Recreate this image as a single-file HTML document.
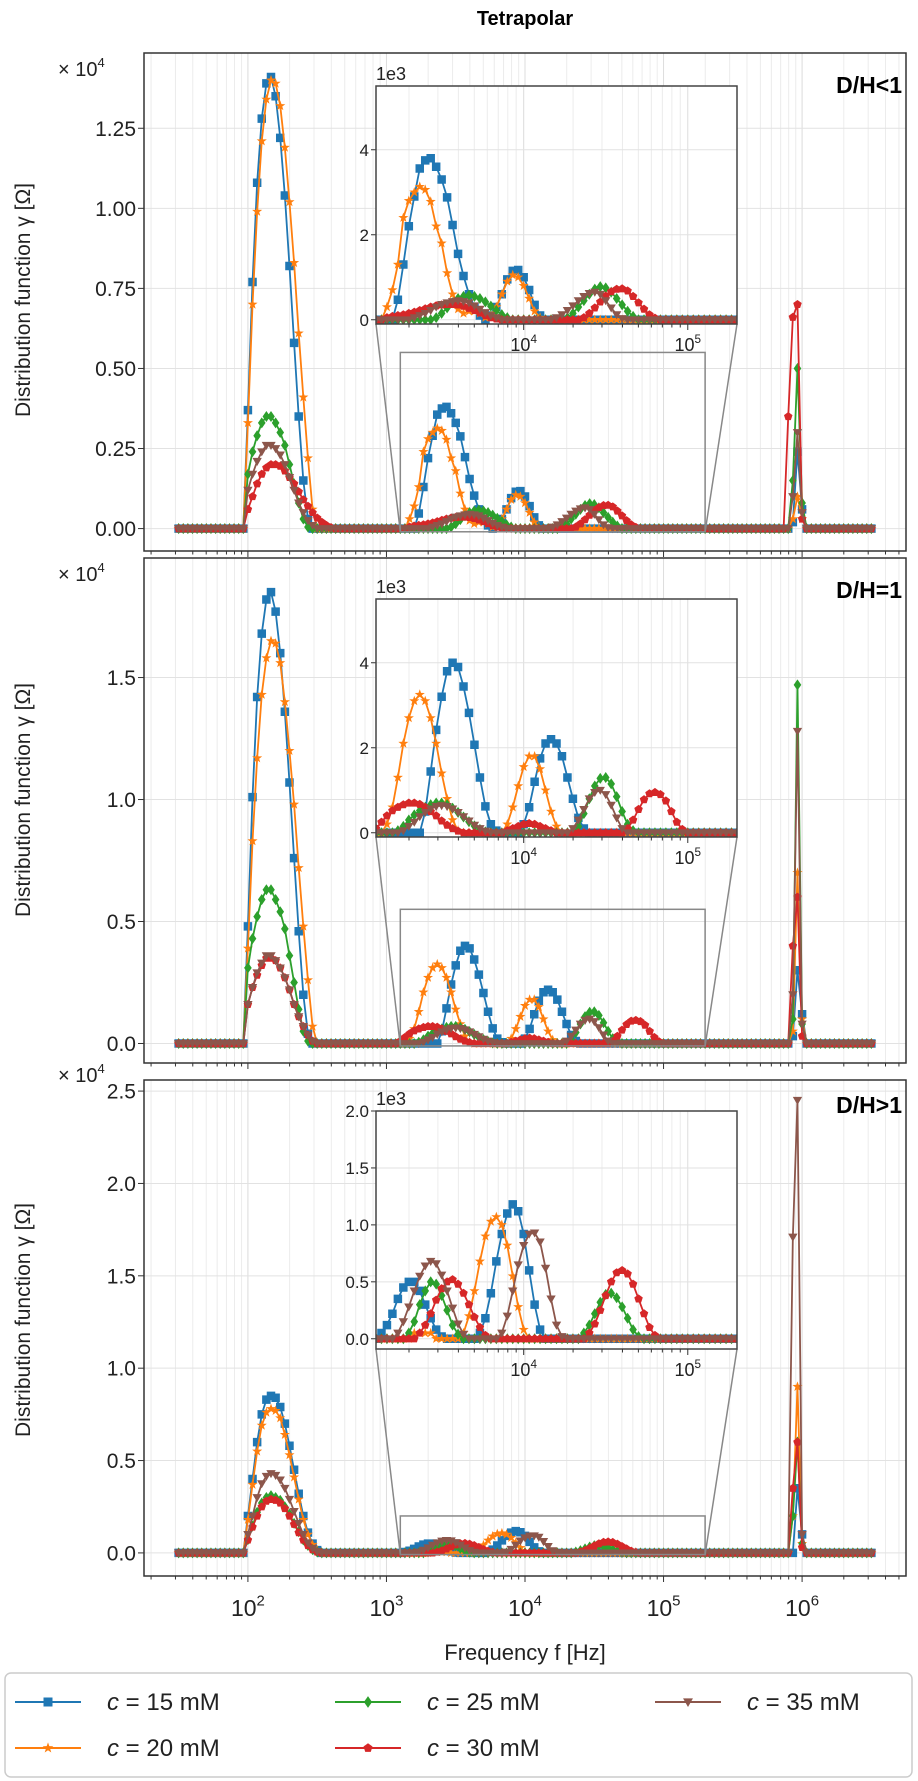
<!DOCTYPE html>
<html><head><meta charset="utf-8"><title>Tetrapolar distribution functions</title>
<style>
html,body{margin:0;padding:0;background:#fff;}
svg{display:block;font-family:"Liberation Sans","DejaVu Sans",sans-serif;}
</style></head>
<body>
<svg id="chart" xmlns="http://www.w3.org/2000/svg" width="918" height="1781" viewBox="0 0 918 1781">
<rect x="0" y="0" width="918" height="1781" fill="#fff"/>
<text x="525" y="25" text-anchor="middle" font-size="20" font-weight="bold">Tetrapolar</text>
<text transform="translate(30,300) rotate(-90)" text-anchor="middle" font-size="21" fill="#222">Distribution function γ [Ω]</text>
<text transform="translate(30,800) rotate(-90)" text-anchor="middle" font-size="21" fill="#222">Distribution function γ [Ω]</text>
<text transform="translate(30,1320) rotate(-90)" text-anchor="middle" font-size="21" fill="#222">Distribution function γ [Ω]</text>
<text x="525" y="1660" text-anchor="middle" font-size="22" fill="#222">Frequency f [Hz]</text>
<g id="panels"></g>
<g id="legend">
<rect x="5" y="1673" width="907" height="104" rx="6" fill="#fff" stroke="#ccc" stroke-width="1.5"/>
</g>
</svg>
<script>
// ---- data (values in units of 1e3 Ω), index i -> log10(f) = 1.5 + i/30, 151 points ----
const logFreqStart = 1.5;
const logFreqStep = 1/30;
const seriesLabels = ['15','20','25','30','35'];
const xTickLabels = ['2','3','4','5','6'];
const p1YTicks = ['0.00','0.25','0.50','0.75','1.00','1.25'];
const p2YTicks = ['0.0','0.5','1.0','1.5'];
const p3YTicks = ['0.0','0.5','1.0','1.5','2.0','2.5'];
const inset12YTicks = ['0','2','4'];
const inset3YTicks = ['0.0','0.5','1.0','1.5','2.0'];
const panelTitles = ['D/H<1','D/H=1','D/H>1'];

const p1_c15 = [0,0,0,0,0,0,0,0,0,0,
0,0,0,0,0,3.7,7.7,10.8,12.8,13.9,
14.1,13.5,12.2,10.4,8.2,5.8,3.5,1.5,0.3,0,
0,0,0,0,0,0,0,0,0,0,
0,0,0,0,0,0,0,0,0,0,
0,0,0.47,1.3,2.2,2.9,3.56,3.75,3.8,3.6,
3.3,2.88,2.23,1.55,1.03,0.6,0.3,0.1,0,0.1,
0.3,0.6,0.95,1.15,1.17,1.0,0.7,0.35,0.1,0,
0,0,0,0,0,0,0,0,0,0,
0,0,0,0,0,0,0,0,0,0,
0,0,0,0,0,0,0,0,0,0,
0,0,0,0,0,0,0,0,0,0,
0,0,0,0,0,0,0,0,0,0,
0,0,0,0.2,2.4,0.6,0,0,0,0,
0,0,0,0,0,0,0,0,0,0,
0];
const p1_c20 = [0,0,0,0,0,0,0,0,0,0,
0,0,0,0,0,3.3,7.0,9.9,12.1,13.4,
14.0,13.9,13.2,11.9,10.2,8.3,6.1,4.1,2.2,0.6,
0,0,0,0,0,0,0,0,0,0,
0,0,0,0,0,0,0,0,0,0,
0.3,0.7,1.3,2.4,2.8,3.0,3.13,3.06,2.78,2.2,
1.8,1.1,0.6,0.25,0.15,0.2,0.2,0.15,0.05,0.1,
0.3,0.6,0.9,1.05,1.0,0.8,0.5,0.2,0.05,0,
0,0,0,0,0,0,0,0,0,0,
0,0,0,0,0,0,0,0,0,0,
0,0,0,0,0,0,0,0,0,0,
0,0,0,0,0,0,0,0,0,0,
0,0,0,0,0,0,0,0,0,0,
0,0,0,0.3,1.0,0.3,0,0,0,0,
0,0,0,0,0,0,0,0,0,0,
0];
const p1_c25 = [0,0,0,0,0,0,0,0,0,0,
0,0,0,0,0,1.7,2.4,2.9,3.3,3.5,
3.5,3.3,3.0,2.6,2.0,1.4,0.8,0.3,0.05,0,
0,0,0,0,0,0,0,0,0,0,
0,0,0,0,0,0,0,0,0,0,
0,0,0,0,0,0,0,0,0,0.05,
0.15,0.28,0.4,0.5,0.55,0.58,0.55,0.5,0.42,0.32,
0.22,0.12,0.05,0,0,0,0,0,0,0,
0,0,0,0.05,0.15,0.3,0.45,0.6,0.72,0.78,
0.75,0.65,0.5,0.35,0.2,0.08,0,0,0,0,
0,0,0,0,0,0,0,0,0,0,
0,0,0,0,0,0,0,0,0,0,
0,0,0,0,0,0,0,0,0,0,
0,0,0,1.5,5.0,0.8,0,0,0,0,
0,0,0,0,0,0,0,0,0,0,
0];
const p1_c30 = [0,0,0,0,0,0,0,0,0,0,
0,0,0,0,0,0.6,1.0,1.4,1.7,1.9,
2.0,2.0,1.95,1.8,1.6,1.4,1.15,0.9,0.7,0.5,
0.33,0.2,0.1,0.03,0,0,0,0,0,0,
0,0,0,0,0,0,0,0,0,0,
0.05,0.08,0.1,0.12,0.15,0.18,0.22,0.26,0.3,0.33,
0.35,0.36,0.36,0.35,0.32,0.27,0.22,0.16,0.1,0.05,
0.02,0,0,0,0,0,0,0,0,0,
0,0,0,0,0,0,0.05,0.15,0.28,0.42,
0.56,0.66,0.72,0.73,0.68,0.55,0.4,0.25,0.12,0.04,
0,0,0,0,0,0,0,0,0,0,
0,0,0,0,0,0,0,0,0,0,
0,0,0,0,0,0,0,0,0,0,
0,0,3.5,6.6,7.0,0.3,0,0,0,0,
0,0,0,0,0,0,0,0,0,0,
0];
const p1_c35 = [0,0,0,0,0,0,0,0,0,0,
0,0,0,0,0,1.2,1.7,2.1,2.4,2.6,
2.6,2.5,2.3,2.0,1.6,1.2,0.8,0.5,0.25,0.1,
0,0,0,0,0,0,0,0,0,0,
0,0,0,0,0,0,0,0,0,0,
0,0,0,0,0,0.05,0.1,0.15,0.22,0.3,
0.36,0.4,0.43,0.45,0.43,0.4,0.33,0.25,0.17,0.1,
0.05,0,0,0,0,0,0,0,0,0,
0,0.05,0.12,0.22,0.33,0.45,0.55,0.62,0.65,0.6,
0.45,0.28,0.12,0.03,0,0,0,0,0,0,
0,0,0,0,0,0,0,0,0,0,
0,0,0,0,0,0,0,0,0,0,
0,0,0,0,0,0,0,0,0,0,
0,0,0,1.0,3.0,0.5,0,0,0,0,
0,0,0,0,0,0,0,0,0,0,
0];

const p2_c15 = [0,0,0,0,0,0,0,0,0,0,
0,0,0,0,0,4.8,10.1,14.2,16.8,18.2,
18.5,17.7,16,13.6,10.7,7.6,4.6,2,0.4,0,
0,0,0,0,0,0,0,0,0,0,
0,0,0,0,0,0,0,0,0,0,
0,0,0,0,0,0,0,0.5,1.44,2.42,
3.2,3.8,4.0,3.9,3.44,2.82,2.07,1.3,0.62,0.2,
0.05,0,0,0,0,0.2,0.6,1.2,1.75,2.1,
2.2,2.1,1.8,1.3,0.8,0.35,0.1,0,0,0,
0,0,0,0,0,0,0,0,0,0,
0,0,0,0,0,0,0,0,0,0,
0,0,0,0,0,0,0,0,0,0,
0,0,0,0,0,0,0,0,0,0,
0,0,0,0.3,3.0,1.2,0,0,0,0,
0,0,0,0,0,0,0,0,0,0,
0];
const p2_c20 = [0,0,0,0,0,0,0,0,0,0,
0,0,0,0,0,3.9,8.3,11.7,14.3,15.8,
16.5,16.4,15.6,14,12,9.8,7.2,4.8,2.6,0.7,
0,0,0,0,0,0,0,0,0,0,
0,0,0,0,0,0,0,0,0,0,
0.2,0.6,1.3,2.1,2.7,3.1,3.25,3.1,2.7,2.1,
1.4,0.8,0.3,0.05,0,0,0,0,0,0,
0,0,0.2,0.6,1.1,1.55,1.8,1.8,1.5,1.0,
0.5,0.15,0,0,0,0,0,0,0,0,
0,0,0,0,0,0,0,0,0,0,
0,0,0,0,0,0,0,0,0,0,
0,0,0,0,0,0,0,0,0,0,
0,0,0,0,0,0,0,0,0,0,
0,0,0,0.5,7.0,1.0,0,0,0,0,
0,0,0,0,0,0,0,0,0,0,
0];
const p2_c25 = [0,0,0,0,0,0,0,0,0,0,
0,0,0,0,0,3.1,4.3,5.2,5.9,6.3,
6.3,5.9,5.4,4.7,3.6,2.5,1.4,0.5,0.1,0,
0,0,0,0,0,0,0,0,0,0,
0,0,0,0,0,0,0,0,0,0,
0,0,0.05,0.15,0.3,0.42,0.52,0.6,0.66,0.7,
0.7,0.66,0.58,0.48,0.37,0.26,0.16,0.08,0.02,0,
0,0,0,0,0,0,0,0,0,0,
0,0,0,0,0,0.15,0.45,0.8,1.1,1.28,
1.3,1.15,0.85,0.5,0.2,0.05,0,0,0,0,
0,0,0,0,0,0,0,0,0,0,
0,0,0,0,0,0,0,0,0,0,
0,0,0,0,0,0,0,0,0,0,
0,0,0,1.0,14.7,0.8,0,0,0,0,
0,0,0,0,0,0,0,0,0,0,
0];
const p2_c30 = [0,0,0,0,0,0,0,0,0,0,
0,0,0,0,0,1.6,2.3,2.8,3.2,3.5,
3.5,3.4,3.1,2.7,2.2,1.6,1.1,0.7,0.35,0.1,
0,0,0,0,0,0,0,0,0,0,
0,0,0,0,0,0,0,0,0.1,0.25,
0.4,0.52,0.6,0.66,0.7,0.7,0.67,0.6,0.5,0.4,
0.28,0.18,0.1,0.04,0,0,0,0,0,0,
0,0,0.05,0.1,0.15,0.2,0.22,0.2,0.15,0.1,
0.05,0,0,0,0,0,0,0,0,0,
0,0,0,0,0.1,0.3,0.55,0.78,0.92,0.95,
0.9,0.75,0.5,0.25,0.08,0,0,0,0,0,
0,0,0,0,0,0,0,0,0,0,
0,0,0,0,0,0,0,0,0,0,
0,0,0,4.0,6.0,0.3,0,0,0,0,
0,0,0,0,0,0,0,0,0,0,
0];
const p2_c35 = [0,0,0,0,0,0,0,0,0,0,
0,0,0,0,0,1.6,2.3,2.9,3.3,3.6,
3.6,3.4,3.1,2.7,2.2,1.6,1.1,0.7,0.35,0.1,
0,0,0,0,0,0,0,0,0,0,
0,0,0,0,0,0,0,0,0,0,
0,0,0,0.05,0.15,0.25,0.38,0.48,0.56,0.62,
0.64,0.62,0.56,0.48,0.38,0.28,0.18,0.1,0.04,0,
0,0,0,0,0,0,0,0,0,0,
0,0,0,0,0.1,0.3,0.55,0.8,0.95,1.0,
0.9,0.65,0.35,0.1,0,0,0,0,0,0,
0,0,0,0,0,0,0,0,0,0,
0,0,0,0,0,0,0,0,0,0,
0,0,0,0,0,0,0,0,0,0,
0,0,0,2.0,12.8,0.8,0,0,0,0,
0,0,0,0,0,0,0,0,0,0,
0];

const p3_c15 = [0,0,0,0,0,0,0,0,0,0,
0,0,0,0,0,2.0,4.0,6.0,7.5,8.3,
8.5,8.4,7.9,7.0,5.8,4.5,3.2,2.0,1.1,0.5,
0.15,0,0,0,0,0,0,0,0,0,
0,0,0,0,0,0,0,0,0,0.05,
0.12,0.22,0.35,0.45,0.5,0.5,0.42,0.3,0.18,0.08,
0.02,0,0,0,0,0,0,0.05,0.18,0.4,
0.68,0.92,1.1,1.18,1.12,0.92,0.6,0.3,0.08,0,
0,0,0,0,0,0,0,0,0,0,
0,0,0,0,0,0,0,0,0,0,
0,0,0,0,0,0,0,0,0,0,
0,0,0,0,0,0,0,0,0,0,
0,0,0,0,0,0,0,0,0,0,
0,0,0,0,3.5,1.0,0,0,0,0,
0,0,0,0,0,0,0,0,0,0,
0];
const p3_c20 = [0,0,0,0,0,0,0,0,0,0,
0,0,0,0,0,1.8,3.7,5.5,6.9,7.6,
7.8,7.7,7.3,6.4,5.3,4.1,2.9,1.8,1.0,0.45,
0.15,0,0,0,0,0,0,0,0,0,
0,0,0,0,0,0,0,0,0,0,
0,0,0,0,0,0.05,0.05,0.05,0.05,0,
0,0,0,0,0.05,0.2,0.42,0.68,0.9,1.03,
1.07,1.0,0.82,0.55,0.28,0.08,0,0,0,0,
0,0,0,0,0,0,0,0,0,0,
0,0,0,0,0,0,0,0,0,0,
0,0,0,0,0,0,0,0,0,0,
0,0,0,0,0,0,0,0,0,0,
0,0,0,0,0,0,0,0,0,0,
0,0,0,2.0,9.0,0.5,0,0,0,0,
0,0,0,0,0,0,0,0,0,0,
0];
const p3_c25 = [0,0,0,0,0,0,0,0,0,0,
0,0,0,0,0,0.72,1.45,2.2,2.7,3.0,
3.1,3.0,2.85,2.5,2.1,1.6,1.15,0.7,0.4,0.18,
0.05,0,0,0,0,0,0,0,0,0,
0,0,0,0,0,0,0,0,0,0,
0,0,0,0,0.05,0.15,0.3,0.42,0.5,0.48,
0.38,0.25,0.12,0.04,0,0,0,0,0,0,
0,0,0,0,0,0,0,0,0,0,
0,0,0,0,0,0,0.05,0.12,0.22,0.32,
0.39,0.4,0.36,0.28,0.18,0.08,0.02,0,0,0,
0,0,0,0,0,0,0,0,0,0,
0,0,0,0,0,0,0,0,0,0,
0,0,0,0,0,0,0,0,0,0,
0,0,0,2.0,6.0,0.5,0,0,0,0,
0,0,0,0,0,0,0,0,0,0,
0];
const p3_c30 = [0,0,0,0,0,0,0,0,0,0,
0,0,0,0,0,0.7,1.4,2.0,2.5,2.8,
2.9,2.85,2.7,2.4,2.0,1.55,1.1,0.7,0.4,0.18,
0.05,0,0,0,0,0,0,0,0,0,
0,0,0,0,0,0,0,0,0,0,
0,0,0,0,0,0,0.05,0.12,0.22,0.34,
0.44,0.5,0.52,0.48,0.4,0.3,0.19,0.1,0.03,0,
0,0,0,0,0,0,0,0,0,0,
0,0,0,0,0,0,0,0.05,0.13,0.25,
0.38,0.5,0.58,0.6,0.57,0.48,0.35,0.22,0.1,0.03,
0,0,0,0,0,0,0,0,0,0,
0,0,0,0,0,0,0,0,0,0,
0,0,0,0,0,0,0,0,0,0,
0,0,0,3.5,6.0,0.3,0,0,0,0,
0,0,0,0,0,0,0,0,0,0,
0];
const p3_c35 = [0,0,0,0,0,0,0,0,0,0,
0,0,0,0,0,1.0,2.0,3.0,3.75,4.15,
4.3,4.2,3.95,3.5,2.9,2.25,1.6,1.0,0.55,0.25,
0.08,0,0,0,0,0,0,0,0,0,
0,0,0,0,0,0,0,0,0,0,
0,0,0.05,0.15,0.28,0.42,0.55,0.64,0.68,0.66,
0.56,0.42,0.27,0.13,0.04,0,0,0,0,0,
0,0.05,0.2,0.42,0.65,0.82,0.92,0.93,0.85,0.62,
0.35,0.12,0.02,0,0,0,0,0,0,0,
0,0,0,0,0,0,0,0,0,0,
0,0,0,0,0,0,0,0,0,0,
0,0,0,0,0,0,0,0,0,0,
0,0,0,0,0,0,0,0,0,0,
0,0,0,17.1,24.5,1.0,0,0,0,0,
0,0,0,0,0,0,0,0,0,0,
0];

// ---- layout / style (not data) ----
const NS = 'http://www.w3.org/2000/svg';
const COLORS = ['#1f77b4','#ff7f0e','#2ca02c','#d62728','#8c564b'];
const MARKERS = ['square','star','diamond','pentagon','tri'];
const MSIZE = 8.5;
const AX_L = 144, AX_R = 906, LXMIN = 1.25, LXMAX = 6.75;
const IN_L = 376, IN_R = 737, ILXMIN = 3.1, ILXMAX = 5.3;

const panels = [
 {top:53, bottom:551, ymin:-0.7, ymax:14.85, tickStep:2.5, ticks:p1YTicks, series:[p1_c15,p1_c20,p1_c25,p1_c30,p1_c35],
  inset:{top:86,bottom:324,ymin:-0.1,ymax:5.5,tickStep:2,ticks:inset12YTicks}},
 {top:558, bottom:1063, ymin:-0.8, ymax:19.9, tickStep:5, ticks:p2YTicks, series:[p2_c15,p2_c20,p2_c25,p2_c30,p2_c35],
  inset:{top:599,bottom:837,ymin:-0.1,ymax:5.5,tickStep:2,ticks:inset12YTicks}},
 {top:1080, bottom:1576, ymin:-1.25, ymax:25.6, tickStep:5, ticks:p3YTicks, series:[p3_c15,p3_c20,p3_c25,p3_c30,p3_c35],
  inset:{top:1111,bottom:1349,ymin:-0.09,ymax:2.0,tickStep:0.5,ticks:inset3YTicks}}
];

function lfAt(i){ return logFreqStart + i*logFreqStep; }
function mainX(lf){ return AX_L + (lf-LXMIN)/(LXMAX-LXMIN)*(AX_R-AX_L); }
function insX(lf){ return IN_L + (lf-ILXMIN)/(ILXMAX-ILXMIN)*(IN_R-IN_L); }
function makeY(top,bottom,ymin,ymax){ return v => bottom - (v-ymin)/(ymax-ymin)*(bottom-top); }

function el(tag, parent, name){
  const e = document.createElementNS(NS, tag);
  
  
  parent.appendChild(e);
  return e;
}
function line(parent,name,x1,y1,x2,y2,stroke,w){
  const l = el('line',parent,name);
  l.setAttribute('x1',x1); l.setAttribute('y1',y1); l.setAttribute('x2',x2); l.setAttribute('y2',y2);
  l.setAttribute('stroke',stroke); l.setAttribute('stroke-width',w);
  return l;
}
function text(parent,name,x,y,str,size,anchor,extra){
  const t = el('text',parent,name);
  t.setAttribute('x',x); t.setAttribute('y',y);
  t.setAttribute('font-size',size); t.setAttribute('text-anchor',anchor||'start');
  t.setAttribute('fill','#222');
  if(extra) for(const k in extra) t.setAttribute(k,extra[k]);
  t.textContent = str;
  return t;
}
function powText(parent,name,x,y,exp,size,anchor){
  const t = el('text',parent,name);
  t.setAttribute('x',x); t.setAttribute('y',y);
  t.setAttribute('font-size',size); t.setAttribute('text-anchor',anchor||'middle');
  t.setAttribute('fill','#222');
  const a = document.createElementNS(NS,'tspan'); a.textContent='10'; t.appendChild(a);
  const b = document.createElementNS(NS,'tspan'); b.textContent=exp;
  b.setAttribute('dy', -size*0.45); b.setAttribute('font-size', size*0.65); t.appendChild(b);
  return t;
}
function markerPath(type,x,y,s){
  const r = s/2;
  if(type==='square') return `M${x-r},${y-r}h${s}v${s}h${-s}Z`;
  if(type==='diamond') return `M${x},${y-r*1.3}L${x+r*0.9},${y}L${x},${y+r*1.3}L${x-r*0.9},${y}Z`;
  if(type==='tri') return `M${x-r*1.1},${y-r*0.8}L${x+r*1.1},${y-r*0.8}L${x},${y+r*1.1}Z`;
  let pts=[], n = type==='star'?10:5;
  for(let k=0;k<n;k++){
    const ang = -Math.PI/2 + k*2*Math.PI/n;
    const rr = type==='star' ? (k%2===0 ? r*1.25 : r*0.5) : r*1.05;
    pts.push((x+rr*Math.cos(ang)).toFixed(2)+','+(y+rr*Math.sin(ang)).toFixed(2));
  }
  return 'M'+pts.join('L')+'Z';
}
function drawSeries(parent, values, sIdx, xf, yf, name){
  const g = el('g',parent,name);
  const pts = values.map((v,i)=> xf(lfAt(i)).toFixed(2)+','+yf(v).toFixed(2));
  const pl = el('polyline',g,name+'-line');
  pl.setAttribute('points',pts.join(' '));
  pl.setAttribute('fill','none'); pl.setAttribute('stroke',COLORS[sIdx]); pl.setAttribute('stroke-width','1.8');
  let d='';
  values.forEach((v,i)=>{ d += markerPath(MARKERS[sIdx], xf(lfAt(i)), yf(v), MSIZE); });
  const mk = el('path',g,name+'-markers');
  mk.setAttribute('d',d); mk.setAttribute('fill',COLORS[sIdx]);
}
function vGrid(parent,name,xf,lmin,lmax,top,bottom){
  for(let d=1; d<=6; d++){
    for(let k=1;k<=9;k++){
      const lf = d+Math.log10(k);
      if(lf<lmin||lf>lmax) continue;
      const x = xf(lf);
      line(parent,name,x,top,x,bottom,k===1?'#dcdcdc':'#ececec',1);
    }
  }
}
function xTicks(parent,name,xf,lmin,lmax,bottom){
  for(let d=1; d<=6; d++){
    for(let k=1;k<=9;k++){
      const lf = d+Math.log10(k);
      if(lf<lmin||lf>lmax) continue;
      const x = xf(lf);
      line(parent,name,x,bottom,x,bottom+(k===1?6:3.5),'#333',1);
    }
  }
}

const root = document.getElementById('panels');
panels.forEach((P,pi)=>{
  const g = el('g',root,'panel-'+(pi+1));
  const yf = makeY(P.top,P.bottom,P.ymin,P.ymax);
  const clipId = 'clip-main-'+pi;
  const cp = el('clipPath',g,'plot-area-clip'); cp.setAttribute('id',clipId);
  const cr = el('rect',cp,'plot-area-clip-rect');
  cr.setAttribute('x',AX_L); cr.setAttribute('y',P.top); cr.setAttribute('width',AX_R-AX_L); cr.setAttribute('height',P.bottom-P.top);
  const grid = el('g',g,'grid');
  vGrid(grid,'x-gridline',mainX,LXMIN,LXMAX,P.top,P.bottom);
  P.ticks.forEach((lab,k)=>{
    const y = yf(k*P.tickStep);
    line(grid,'y-gridline',AX_L,y,AX_R,y,'#e2e2e2',1);
    line(g,'y-tick',AX_L-6,y,AX_L,y,'#333',1);
    text(g,'y-tick-label',AX_L-8,y+7.5,lab,21,'end');
  });
  const ex = el('text',g,'y-axis-multiplier');
  ex.setAttribute('x',58); ex.setAttribute('y',pi===2?P.top+2:P.top+23); ex.setAttribute('font-size','20'); ex.setAttribute('fill','#222');
  ex.textContent = '× 10';
  const es = document.createElementNS(NS,'tspan'); es.textContent='4'; es.setAttribute('dy','-9'); es.setAttribute('font-size','13'); ex.appendChild(es);
  const sg = el('g',g,'series-group');
  sg.setAttribute('clip-path','url(#'+clipId+')');
  P.series.forEach((arr,s)=> drawSeries(sg,arr,s,mainX,yf,'series-c'+seriesLabels[s]+'mM'));
  const I = P.inset;
  const rx1 = mainX(ILXMIN), rx2 = mainX(ILXMAX), ry1 = yf(I.ymax), ry2 = yf(I.ymin);
  const zr = el('rect',g,'zoom-region-indicator');
  zr.setAttribute('x',rx1); zr.setAttribute('y',ry1); zr.setAttribute('width',rx2-rx1); zr.setAttribute('height',ry2-ry1);
  zr.setAttribute('fill','none'); zr.setAttribute('stroke','#888'); zr.setAttribute('stroke-width','1.5');
  line(g,'inset-connector',IN_L,I.bottom,rx1,ry2,'#888',1.5);
  line(g,'inset-connector',IN_R,I.bottom,rx2,ry2,'#888',1.5);
  const fr = el('rect',g,'axes-frame');
  fr.setAttribute('x',AX_L); fr.setAttribute('y',P.top); fr.setAttribute('width',AX_R-AX_L); fr.setAttribute('height',P.bottom-P.top);
  fr.setAttribute('fill','none'); fr.setAttribute('stroke','#333'); fr.setAttribute('stroke-width','1.5');
  xTicks(g,'x-tick',mainX,LXMIN,LXMAX,P.bottom);
  if(pi===2){
    xTickLabels.forEach(e=> powText(g,'x-tick-label',mainX(+e),P.bottom+40,e,23,'middle'));
  }
  text(g,'panel-condition-label',902,P.top+(pi===2?33:40),panelTitles[pi],23,'end',{'font-weight':'bold','fill':'#000'});

  const ig = el('g',g,'inset-axes');
  const iyf = makeY(I.top,I.bottom,I.ymin,I.ymax);
  const bg = el('rect',ig,'inset-background');
  bg.setAttribute('x',IN_L); bg.setAttribute('y',I.top); bg.setAttribute('width',IN_R-IN_L); bg.setAttribute('height',I.bottom-I.top); bg.setAttribute('fill','#fff');
  vGrid(ig,'inset-x-gridline',insX,ILXMIN,ILXMAX,I.top,I.bottom);
  I.ticks.forEach((lab,k)=>{
    const y = iyf(k*I.tickStep);
    line(ig,'inset-y-gridline',IN_L,y,IN_R,y,'#e2e2e2',1);
    line(ig,'inset-y-tick',IN_L-5,y,IN_L,y,'#333',1);
    text(ig,'inset-y-tick-label',IN_L-7,y+6,lab,17,'end');
  });
  const icId = 'clip-inset-'+pi;
  const icp = el('clipPath',ig,'inset-clip'); icp.setAttribute('id',icId);
  const icr = el('rect',icp,'inset-clip-rect');
  icr.setAttribute('x',IN_L); icr.setAttribute('y',I.top); icr.setAttribute('width',IN_R-IN_L); icr.setAttribute('height',I.bottom-I.top);
  const isg = el('g',ig,'inset-series-group');
  isg.setAttribute('clip-path','url(#'+icId+')');
  P.series.forEach((arr,s)=> drawSeries(isg,arr,s,insX,iyf,'inset-series-c'+seriesLabels[s]+'mM'));
  const ifr = el('rect',ig,'inset-frame');
  ifr.setAttribute('x',IN_L); ifr.setAttribute('y',I.top); ifr.setAttribute('width',IN_R-IN_L); ifr.setAttribute('height',I.bottom-I.top);
  ifr.setAttribute('fill','none'); ifr.setAttribute('stroke','#444'); ifr.setAttribute('stroke-width','1.5');
  xTicks(ig,'inset-x-tick',insX,ILXMIN,ILXMAX,I.bottom);
  ['4','5'].forEach(e=> powText(ig,'inset-x-tick-label',insX(+e),I.bottom+27,e,18,'middle'));
  text(ig,'inset-y-scale-label',IN_L,I.top-6,'1e3',18,'start');
});

const lg = document.getElementById('legend');
const legendPos = [[15,1702],[15,1748],[335,1702],[335,1748],[655,1702]];
seriesLabels.forEach((lab,s)=>{
  const [x0,y0] = legendPos[s];
  const eg = el('g',lg,'legend-entry-c'+lab+'mM');
  line(eg,'legend-line',x0,y0,x0+66,y0,COLORS[s],2);
  const m = el('path',eg,'legend-marker');
  m.setAttribute('d',markerPath(MARKERS[s],x0+33,y0,9)); m.setAttribute('fill',COLORS[s]);
  const t = el('text',eg,'legend-label');
  t.setAttribute('x',x0+92); t.setAttribute('y',y0+8); t.setAttribute('font-size','24'); t.setAttribute('fill','#222');
  const a = document.createElementNS(NS,'tspan'); a.setAttribute('font-style','italic'); a.textContent='c'; t.appendChild(a);
  const b = document.createElementNS(NS,'tspan'); b.textContent=' = '+lab+' mM'; t.appendChild(b);
});
</script>
</body></html>
